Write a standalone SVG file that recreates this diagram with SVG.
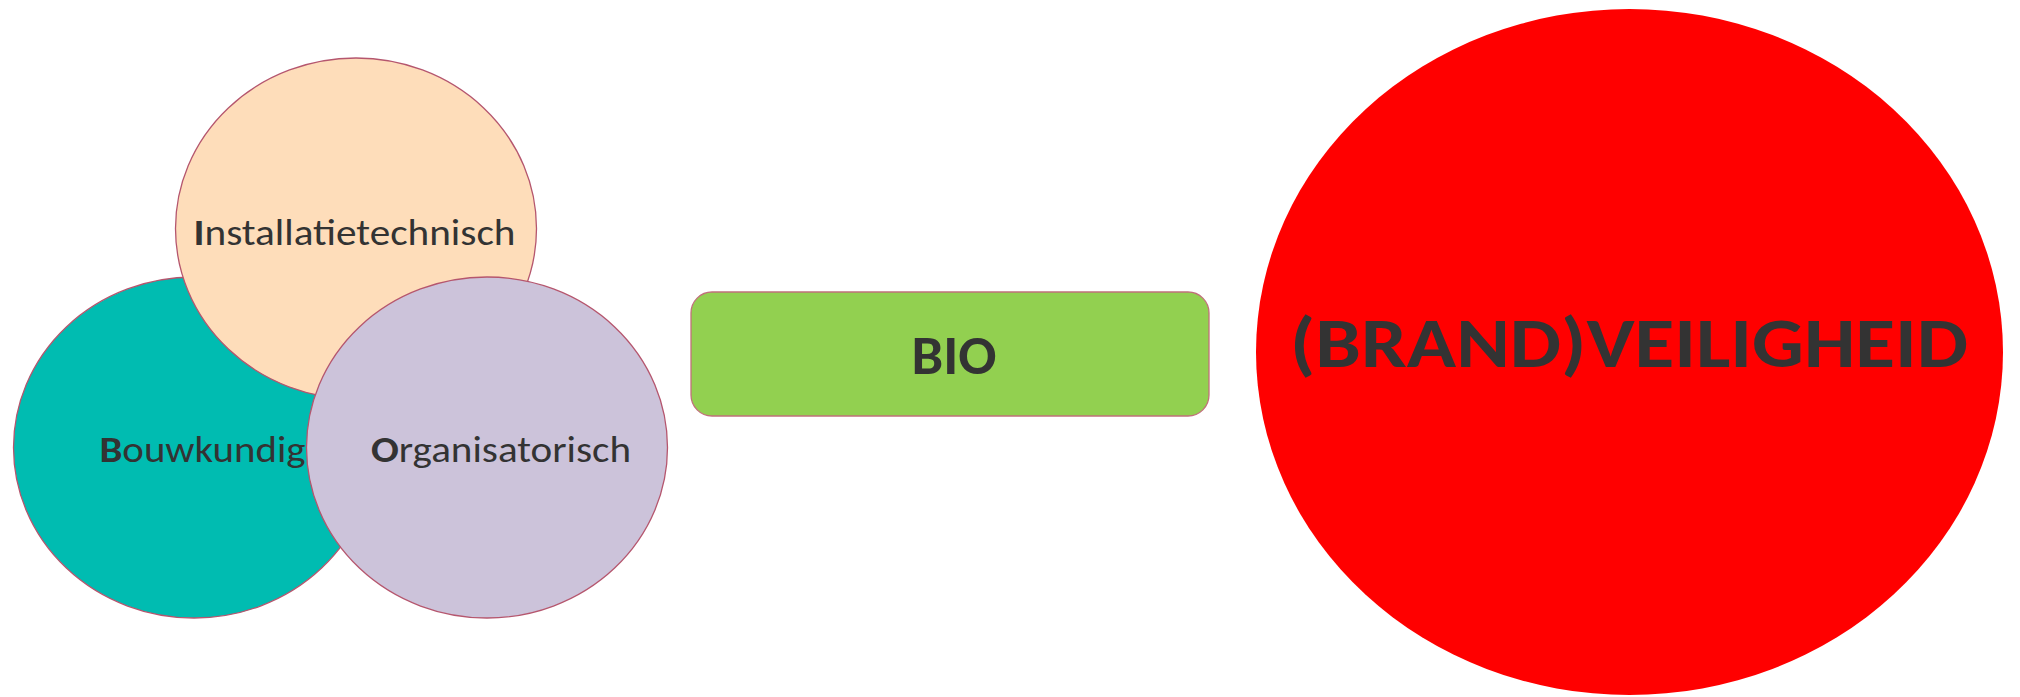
<svg xmlns="http://www.w3.org/2000/svg" width="2020" height="697" viewBox="0 0 2020 697">
<style>
.circ { stroke: #B5566E; stroke-width: 1.3; }
.lbl { font-family: Calibri, Carlito, Lato, "Open Sans", sans-serif; fill: #333333; }
.b { font-weight: bold; }
</style>
<rect x="0" y="0" width="2020" height="697" fill="#FFFFFF"/>
<g id="node-bouwkundig">
  <ellipse class="circ" cx="194" cy="447.5" rx="180.5" ry="170.5" fill="#00BCB1"/>
  <text class="lbl" x="99.5" y="462" font-size="36" textLength="206" lengthAdjust="spacingAndGlyphs"><tspan class="b">B</tspan>ouwkundig</text>
</g>
<g id="node-installatietechnisch">
  <ellipse class="circ" cx="356" cy="228.5" rx="180.5" ry="170.5" fill="#FEDDBA"/>
  <text class="lbl" x="193.5" y="244.5" font-size="36" textLength="322" lengthAdjust="spacingAndGlyphs"><tspan class="b">I</tspan>nstallatietechnisch</text>
</g>
<g id="node-organisatorisch">
  <ellipse class="circ" cx="487" cy="447.5" rx="180.5" ry="170.5" fill="#CCC3DA"/>
  <text class="lbl" x="371" y="462" font-size="36" textLength="260" lengthAdjust="spacingAndGlyphs"><tspan class="b">O</tspan>rganisatorisch</text>
</g>
<g id="node-bio">
  <rect x="691" y="292" width="518" height="124" rx="21" ry="21" fill="#92D050" stroke="#C0707A" stroke-width="1.3"/>
  <text class="lbl b" x="954" y="374.3" font-size="55" text-anchor="middle" textLength="85" lengthAdjust="spacingAndGlyphs">BIO</text>
</g>
<g id="node-brandveiligheid">
  <ellipse cx="1629.5" cy="352" rx="373.5" ry="343" fill="#FF0000"/>
  <text class="lbl b" x="1629" y="367" font-size="71" text-anchor="middle" textLength="678" lengthAdjust="spacingAndGlyphs">(BRAND)VEILIGHEID</text>
</g>
<g id="connectors"/>
</svg>
